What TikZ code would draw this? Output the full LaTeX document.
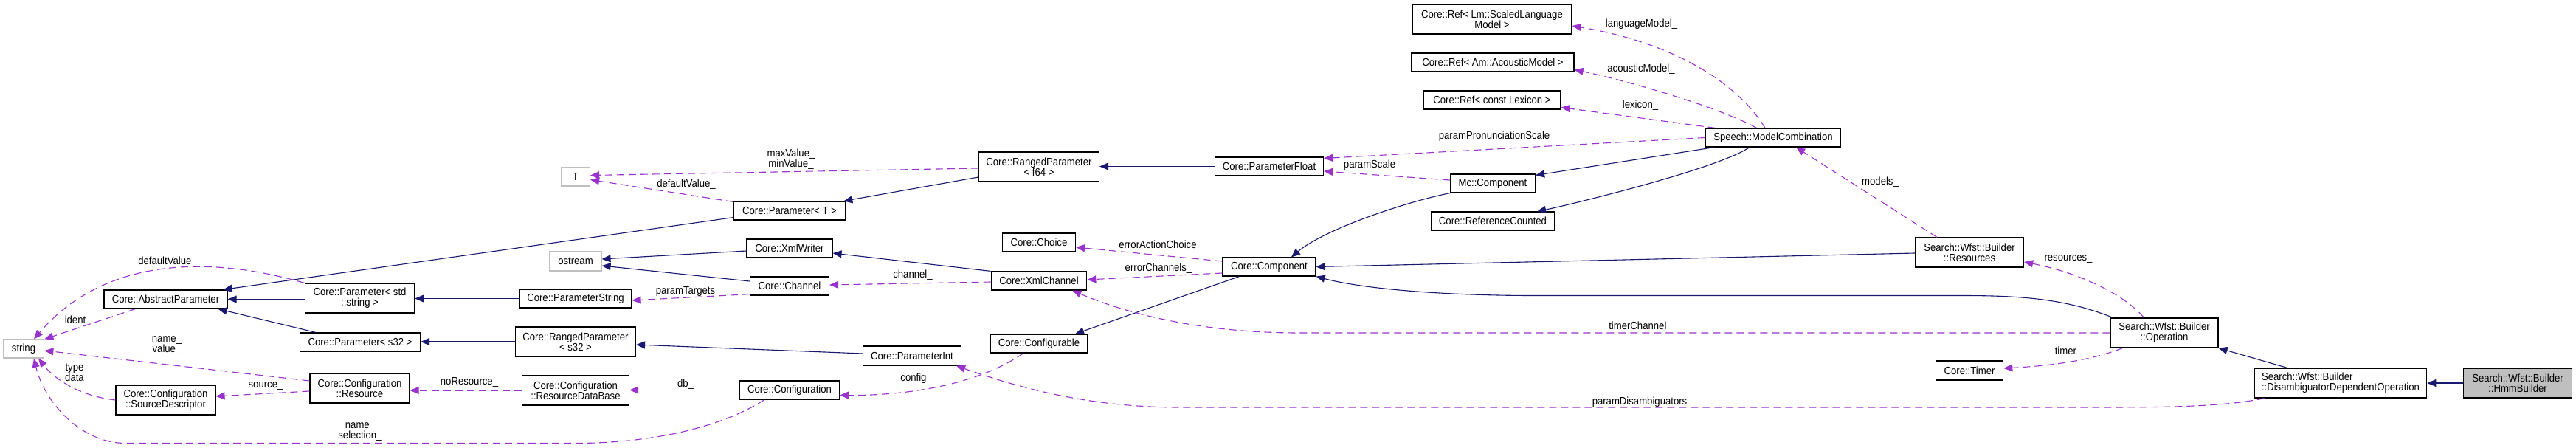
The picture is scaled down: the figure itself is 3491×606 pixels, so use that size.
\documentclass[tikz,border=0pt]{standalone}
\usepackage{fontspec}
\setmainfont{Liberation Sans}[FakeStretch=0.9]
\usetikzlibrary{arrows.meta,calc}
\definecolor{inhcol}{RGB}{25,25,112}
\definecolor{usecol}{RGB}{154,50,205}
\definecolor{grayb}{RGB}{191,191,191}
\newcommand{\dfont}{\fontsize{7.3}{7}\selectfont}
\begin{document}
\begin{tikzpicture}[x=0.5pt,y=-0.5pt,
  box/.style={draw=black, line width=0.6pt, fill=white, inner sep=0pt, align=center, font=\dfont},
  gbox/.style={box, draw=grayb},
  wh/.style 2 args={minimum width=#1*0.5pt, minimum height=#2*0.5pt},
  lbl/.style={inner sep=0pt, align=center, font=\dfont},
  inh/.style={draw=inhcol, line width=0.55pt, -{Triangle[length=6pt,width=5pt]}},
  use/.style={draw=usecol, line width=0.55pt, dash pattern=on 5pt off 3pt, -{Triangle[length=6pt,width=5pt]}},
]
\fill[white] (0,0) rectangle (3491,606);
\useasboundingbox (0,0) rectangle (3491,606);

% nodes
\node[gbox, wh={55.5}{25}] (str) at (32,472.5) {string};
\node[box, wh={167}{25}] (absP) at (224.5,405.5) {Core::AbstractParameter};
\node[box, wh={135}{40}] (srcD) at (224.5,542) {Core::Configuration\\::SourceDescriptor};
\node[box, wh={148.5}{40}] (pStr) at (487.5,404) {Core::Parameter< std\\::string >};
\node[box, wh={163}{25}] (pS32) at (488,463.5) {Core::Parameter< s32 >};
\node[box, wh={135}{40}] (res) at (487.5,526) {Core::Configuration\\::Resource};
\node[gbox, wh={39}{25}] (T) at (780,239.5) {T};
\node[gbox, wh={70}{26}] (ostream) at (780,354) {ostream};
\node[box, wh={152}{25}] (pString) at (780,404.5) {Core::ParameterString};
\node[box, wh={163}{40}] (rpS32) at (780,463) {Core::RangedParameter\\< s32 >};
\node[box, wh={145}{40}] (rdb) at (780,529) {Core::Configuration\\::ResourceDataBase};
\node[box, wh={151.5}{25}] (pT) at (1070,285.5) {Core::Parameter< T >};
\node[box, wh={116}{25}] (xmlW) at (1070,336.5) {Core::XmlWriter};
\node[box, wh={107}{25}] (chan) at (1070,387.5) {Core::Channel};
\node[box, wh={135}{25}] (conf) at (1070,528.5) {Core::Configuration};
\node[box, wh={133}{26}] (pInt) at (1236,482) {Core::ParameterInt};
\node[box, wh={163}{40}] (rpF64) at (1408,226) {Core::RangedParameter\\< f64 >};
\node[box, wh={99}{25}] (choice) at (1408,328.5) {Core::Choice};
\node[box, wh={129.5}{25}] (xmlC) at (1408,380.5) {Core::XmlChannel};
\node[box, wh={131}{25}] (cfgb) at (1408,465.5) {Core::Configurable};
\node[box, wh={147}{25}] (pF) at (1720,225.5) {Core::ParameterFloat};
\node[box, wh={126}{25}] (comp) at (1720,361.5) {Core::Component};
\node[box, wh={115}{25}] (mc) at (2023,248.5) {Mc::Component};
\node[box, wh={167}{25}] (refc) at (2023,299.5) {Core::ReferenceCounted};
\node[box, wh={216}{40}] (refLm) at (2022,26) {Core::Ref< Lm::ScaledLanguage\\Model >};
\node[box, wh={220}{25}] (refAm) at (2023,84.5) {Core::Ref< Am::AcousticModel >};
\node[box, wh={186}{25}] (refLex) at (2022,135.5) {Core::Ref< const Lexicon >};
\node[box, wh={183}{25}] (smc) at (2403,186.5) {Speech::ModelCombination};
\node[box, wh={147}{40}] (wres) at (2669,342) {Search::Wfst::Builder\\::Resources};
\node[box, wh={91.5}{26}] (timer) at (2669,502) {Core::Timer};
\node[box, wh={146}{40}] (op) at (2933,451) {Search::Wfst::Builder\\::Operation};
\node[box, wh={233.5}{40}, align=left] (ddo) at (3172,519) {Search::Wfst::Builder\\::DisambiguatorDependentOperation};
\node[box, wh={146.7}{40}, fill=grayb] (hmm) at (3412,519) {Search::Wfst::Builder\\::HmmBuilder};

% inheritance
\draw[inh] (pStr.west |- absP.east) -- (absP.east);
\draw[inh] ($(pS32.north west)+(22,0)$) -- ($(absP.south east)+(-13,0)$);
\draw[inh] ($(pT.south west)+(0,-4)$) -- ($(absP.north east)+(-6,0)$);
\draw[inh] (pString.west) -- (pString.west -| pStr.east);
\draw[inh] (rpS32.west) -- (rpS32.west -| pS32.east);
\draw[inh] ($(rpF64.west)+(0,14)$) -- ($(pT.north east)+(-3,0)$);
\draw[inh] (pF.west) -- (pF.west -| rpF64.east);
\draw[inh] ($(pInt.west)+(0,-3)$) -- ($(rpS32.east)+(0,4)$);
\draw[inh] ($(xmlW.west)+(0,3.5)$) -- ($(ostream.east)+(0,-3)$);
\draw[inh] ($(chan.west)+(0,-6.5)$) -- ($(ostream.east)+(0,6)$);
\draw[inh] (xmlC.north west) -- ($(xmlW.east)+(0,6.5)$);
\draw[inh] ($(comp.south west)+(23,0)$) -- ($(cfgb.north east)+(-17,0)$);
\draw[inh] (mc.south west) .. controls ($(mc.south west)+(-60,12)$) and ($(comp.north)+(75,-38)$) .. ($(comp.north)+(30,0)$);
\draw[inh] ($(smc.south west)+(12,0)$) -- ($(mc.north east)+(0,2)$);
\draw[inh] ($(smc.south west)+(60,0)$) .. controls ($(smc.south west)+(15,30)$) and ($(refc.north east)+(16,-8)$) .. ($(refc.north east)+(-24,0)$);
\draw[inh] ($(wres.west)+(0,1)$) -- (comp.east);
\draw[inh] ($(op.north west)+(4,0)$) .. controls (2800,405) and (2740,400.5) .. (2660,400.5) -- (2080,400.5) .. controls (1960,400.5) and (1850,392) .. (comp.south east);
\draw[inh] ($(ddo.north west)+(45,0)$) -- (op.south east);
\draw[inh] (hmm.west) -- (ddo.east);

% usage
\draw[use] ($(absP.south west)+(43,0)$) -- (str.north east);
\draw[use] (pStr.north west) .. controls (280,345) and (140,350) .. ($(str.north)+(14,0)$);
\draw[use] ($(res.west)+(0,-10)$) -- ($(str.east)+(0,2.5)$);
\draw[use] (srcD.west) .. controls (110,537) and (75,515) .. ($(str.south)+(20,0)$);
\draw[use] ($(res.west)+(0,4)$) -- ($(srcD.east)+(0,-5)$);
\draw[use] ($(conf.south west)+(34,0)$) .. controls (990,572) and (900,600.5) .. (780,600.5) -- (170,600.5) .. controls (110,600.5) and (60,545) .. ($(str.south)+(14,0)$);
\draw[use] (rdb.west) -- (rdb.west -| res.east);
\draw[use] (conf.west) -- (conf.west -| rdb.east);
\draw[use] ($(cfgb.south west)+(45,0)$) .. controls (1330,518) and (1240,536) .. ($(conf.east)+(0,7)$);
\draw[use] ($(pT.north west)+(0,1)$) -- ($(T.east)+(0,4)$);
\draw[use] ($(rpF64.west)+(0,2)$) -- ($(T.east)+(0,-2)$);
\draw[use] ($(chan.south west)+(0,-2)$) -- ($(pString.east)+(0,2.5)$);
\draw[use] ($(xmlC.west)+(0,1.5)$) -- ($(chan.east)+(0,-1.5)$);
\draw[use] ($(comp.west)+(0,-7.5)$) -- ($(choice.east)+(0,6.5)$);
\draw[use] ($(comp.west)+(0,8.5)$) -- ($(xmlC.east)+(0,-1.5)$);
\draw[use] (op.west) -- (1760,451) .. controls (1620,451) and (1520,422) .. ($(xmlC.south east)+(-20,0)$);
\draw[use] ($(ddo.south west)+(14,0)$) .. controls (3020,550) and (2950,552) .. (2850,552) -- (1600,552) .. controls (1480,552) and (1385,527) .. ($(pInt.south east)+(-7,0)$);
\draw[use] ($(mc.west)+(0,-4.5)$) -- ($(pF.east)+(0,6.5)$);
\draw[use] (smc.west) -- ($(pF.east)+(0,-11)$);
\draw[use] ($(smc.north)+(-11,0)$) .. controls (2360,120) and (2280,60) .. ($(refLm.east)+(0,9)$);
\draw[use] ($(smc.north)+(-22.5,0)$) .. controls (2330,145) and (2200,108) .. ($(refAm.east)+(0,10)$);
\draw[use] ($(smc.north west)+(13.5,0)$) -- ($(refLex.east)+(0,10)$);
\draw[use] ($(wres.north)+(-44,0)$) -- ($(smc.south)+(31,0)$);
\draw[use] ($(op.north west)+(46,0)$) .. controls (2880,400) and (2820,370) .. ($(wres.east)+(0,13)$);
\draw[use] ($(op.south west)+(17,0)$) .. controls (2840,486) and (2790,495) .. ($(timer.east)+(0,-3)$);

% labels
\node[lbl] (l1) at (227,355) {defaultValue\_};
\node[lbl] (l2) at (102,433) {ident};
\node[lbl] (l3) at (226,468) {name\_\\value\_};
\node[lbl] (l4) at (101,505) {type\\data};
\node[lbl] (l5) at (360,523) {source\_};
\node[lbl] (l6) at (488,585) {name\_\\selection\_};
\node[lbl] (l7) at (1072,216) {maxValue\_\\minValue\_};
\node[lbl] (l8) at (930,250) {defaultValue\_};
\node[lbl] (l9) at (929,395) {paramTargets};
\node[lbl] (l10) at (636,518) {noResource\_};
\node[lbl] (l11) at (929,521) {db\_};
\node[lbl] (l12) at (1569,331) {errorActionChoice};
\node[lbl] (l13) at (1570,364) {errorChannels\_};
\node[lbl] (l14) at (1237,373) {channel\_};
\node[lbl] (l15) at (1238,513) {config};
\node[lbl] (l16) at (2025,185) {paramPronunciationScale};
\node[lbl] (l17) at (1856,224) {paramScale};
\node[lbl] (l18) at (2223,443) {timerChannel\_};
\node[lbl] (l19) at (2222,545) {paramDisambiguators};
\node[lbl] (l20) at (2224.5,33) {languageModel\_};
\node[lbl] (l21) at (2224,94) {acousticModel\_};
\node[lbl] (l22) at (2223,143) {lexicon\_};
\node[lbl] (l23) at (2548,247) {models\_};
\node[lbl] (l24) at (2803,351) {resources\_};
\node[lbl] (l25) at (2803,477) {timer\_};
\end{tikzpicture}
\end{document}
